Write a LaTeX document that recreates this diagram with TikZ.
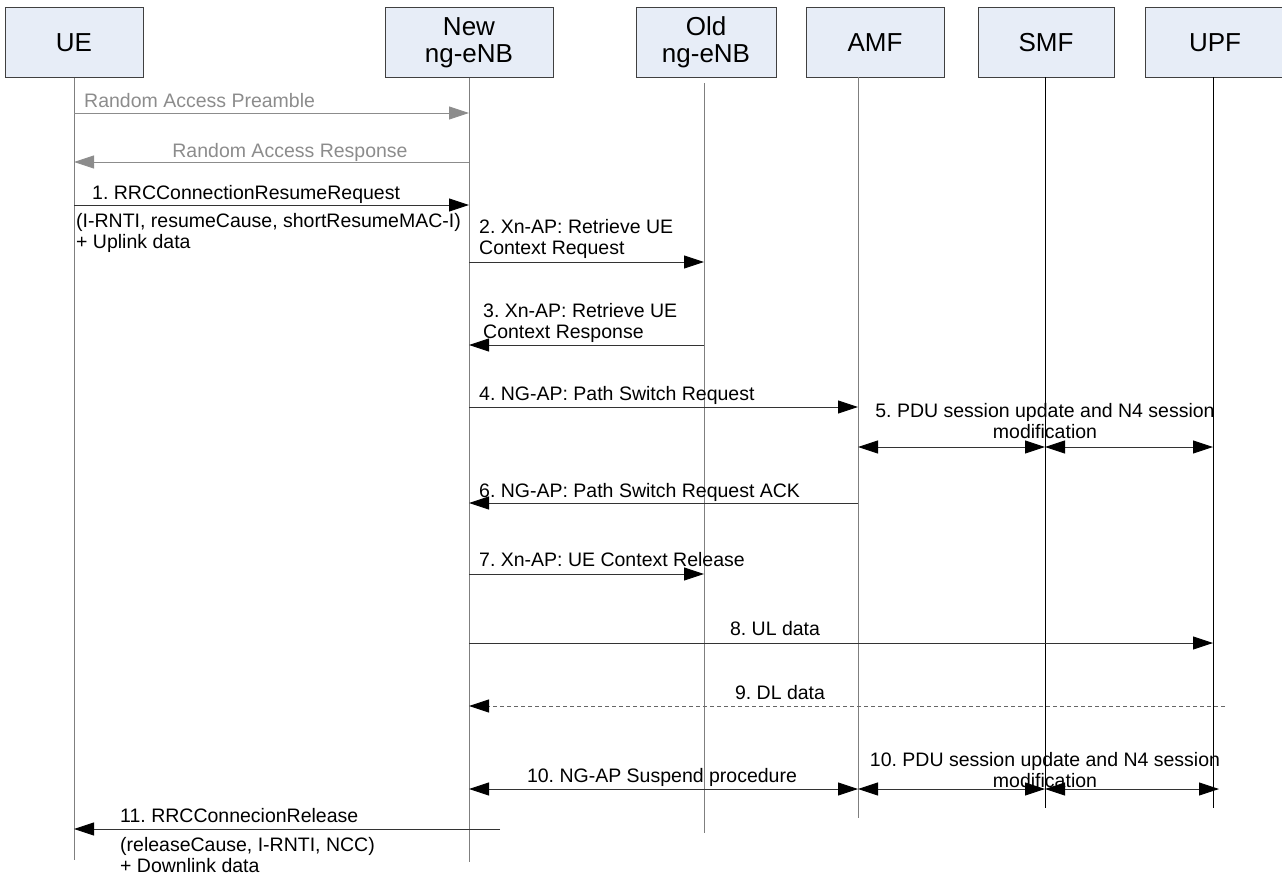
\documentclass[tikz,border=0pt]{standalone}
\usepackage{fontspec}
\setmainfont{Liberation Sans}
\usepackage{tikz}
\usetikzlibrary{arrows.meta, positioning, calc}
\definecolor{boxfill}{HTML}{E7EDF7}
\definecolor{boxline}{HTML}{404040}
\definecolor{lifegray}{HTML}{7F7F7F}
\definecolor{rachgray}{HTML}{8C8C8C}
\frenchspacing

\begin{document}
\begin{tikzpicture}[
    x=1pt, y=-1pt,
    entity/.style={rectangle, draw=boxline, fill=boxfill, line width=1pt,
                   minimum height=69pt, align=center, inner sep=0pt,
                   font=\fontsize{26}{27}\selectfont},
    life/.style={draw=lifegray, line width=1pt},
    lifeblk/.style={draw=black, line width=1pt},
    msg/.style={-{Triangle[length=20pt, width=13pt, color=black]}, line width=0.9pt, draw=black!80},
    ramsg/.style={-{Triangle[length=20pt, width=13pt]}, line width=0.9pt, draw=rachgray},
    dlmsg/.style={msg, dash pattern=on 4pt off 3pt, draw=black!60},
    twoway/.style={{Triangle[length=20pt, width=13pt, color=black]}-{Triangle[length=20pt, width=13pt, color=black]},
                   line width=0.9pt, draw=black!80},
    lbl/.style={font=\fontsize{19.5}{21}\selectfont, inner sep=0pt, align=left},
    clbl/.style={font=\fontsize{19.5}{21}\selectfont, inner sep=0pt, align=center}
]
\useasboundingbox (0,0) rectangle (1282,875);

% Entities
\node[entity, minimum width=138pt] at (74,42.5) (ue) {UE};
\node[entity, minimum width=168pt] at (469,42.5) (newenb) {New\\ng-eNB};
\node[entity, minimum width=140pt] at (706,42.5) (oldenb) {Old\\ng-eNB};
\node[entity, minimum width=138pt] at (875,42.5) (amf) {AMF};
\node[entity, minimum width=136pt] at (1046,42.5) (smf) {SMF};
\node[entity, minimum width=140pt] at (1215,42.5) (upf) {UPF};

% Lifelines
\coordinate (ueEnd) at (74,860);
\coordinate (newEnd) at (469,862);
\coordinate (oldTop) at (704,83);
\coordinate (oldEnd) at (704,833);
\coordinate (amfTop) at (858,77);
\coordinate (amfEnd) at (858,818);
\coordinate (smfTop) at (1045,77);
\coordinate (smfEnd) at (1045,808);
\coordinate (upfTop) at (1213,77);
\coordinate (upfEnd) at (1213,808);
\draw[life] (ue.south) -- (ueEnd);
\draw[life] (newenb.south) -- (newEnd);
\draw[life] (oldTop) -- (oldEnd);
\draw[life] (amfTop) -- (amfEnd);
\draw[lifeblk] (smfTop) -- (smfEnd);
\draw[lifeblk] (upfTop) -- (upfEnd);

% Message levels
\coordinate (yPre) at (0,113);
\coordinate (yRsp) at (0,162);
\coordinate (y1) at (0,205);
\coordinate (y2) at (0,262);
\coordinate (y3) at (0,345);
\coordinate (y4) at (0,407);
\coordinate (y5) at (0,447);
\coordinate (y6) at (0,503);
\coordinate (y7) at (0,574);
\coordinate (y8) at (0,643);
\coordinate (y9) at (0,706);
\coordinate (y10) at (0,789);
\coordinate (y11) at (0,829);
\coordinate (dlSrc) at (1225,706);
\coordinate (upfOver) at (1219,789);
\coordinate (relSrc) at (500,829);

% Random access
\draw[ramsg] (ueEnd |- yPre) -- (newEnd |- yPre);
\node[lbl, text=rachgray, anchor=base west] at (84,107) (preTxt) {Random Access Preamble};
\draw[ramsg] (newEnd |- yRsp) -- (ueEnd |- yRsp);
\node[lbl, text=rachgray, anchor=base] at (290,157) (rspTxt) {Random Access Response};

% Resume
\draw[msg] (ueEnd |- y1) -- (newEnd |- y1);
\node[lbl, anchor=base west] at (76,248) (m1Txt)
    {\hspace{16pt}1. RRCConnectionResumeRequest\\[7pt]
     (I-RNTI, resumeCause, shortResumeMAC-I)\\
     + Uplink data};

\draw[msg] (newEnd |- y2) -- (oldEnd |- y2);
\node[lbl, anchor=base west] at (479,254) (m2Txt) {2. Xn-AP: Retrieve UE\\Context Request};

\draw[msg] (oldEnd |- y3) -- (newEnd |- y3);
\node[lbl, anchor=base west] at (483,338) (m3Txt) {3. Xn-AP: Retrieve UE\\Context Response};

\draw[msg] (newEnd |- y4) -- (amfEnd |- y4);
\node[lbl, anchor=base west] at (479,400) (m4Txt) {4. NG-AP: Path Switch Request};

\draw[twoway] (amfEnd |- y5) -- (smfEnd |- y5);
\draw[twoway] (smfEnd |- y5) -- (upfEnd |- y5);
\node[clbl, anchor=base] at (1045,438) (m5Txt) {5. PDU session update and N4 session\\modification};

\draw[msg] (amfEnd |- y6) -- (newEnd |- y6);
\node[lbl, anchor=base west] at (479,497) (m6Txt) {6. NG-AP: Path Switch Request ACK};

\draw[msg] (newEnd |- y7) -- (oldEnd |- y7);
\node[lbl, anchor=base west] at (479,566) (m7Txt) {7. Xn-AP: UE Context Release};

% User plane
\draw[msg] (newEnd |- y8) -- (upfEnd |- y8);
\node[lbl, anchor=base] at (775,635) (m8Txt) {8. UL data};

\draw[dlmsg] (dlSrc) -- (newEnd |- y9);
\node[lbl, anchor=base] at (780,699) (m9Txt) {9. DL data};

% Suspend
\draw[twoway] (newEnd |- y10) -- (amfEnd |- y10);
\node[lbl, anchor=base] at (662,782) (m10Txt) {10. NG-AP Suspend procedure};
\draw[twoway] (amfEnd |- y10) -- (smfEnd |- y10);
\draw[twoway] (smfEnd |- y10) -- (upfOver);
\node[clbl, anchor=base] at (1045,787) (m10bTxt) {10. PDU session update and N4 session\\modification};

% Release
\draw[msg] (relSrc) -- (ueEnd |- y11);
\node[lbl, anchor=base west] at (120,872) (m11Txt)
    {11. RRCConnecionRelease\\[8pt]
     (releaseCause, I-RNTI, NCC)\\
     + Downlink data};

\end{tikzpicture}
\end{document}
